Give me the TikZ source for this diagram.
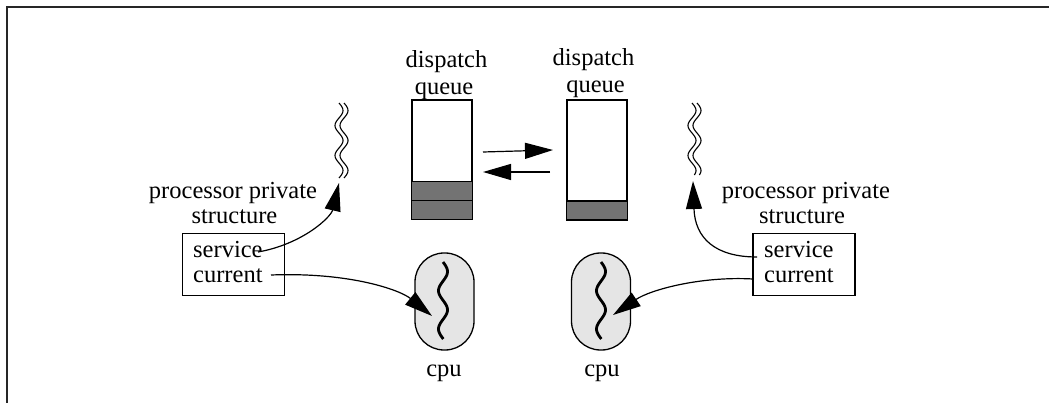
\documentclass[tikz,border=0pt]{standalone}
\usepackage{fontspec}
\setmainfont{Liberation Serif}
\usetikzlibrary{arrows.meta}

\tikzset{
  lbl/.style={inner sep=0pt, anchor=base, font=\fontsize{24.5}{25}\selectfont},
  lbll/.style={lbl, anchor=base west},
  frameline/.style={line width=2.4pt, draw=black!85},
  thin/.style={line width=1.2pt},
  bigarrow/.style={thin, -{Triangle[length=28pt,width=16pt]}},
  queuebox/.style={draw, line width=1.4pt, minimum width=60pt, minimum height=119pt, inner sep=0pt},
  slot/.style={draw, line width=1.4pt, fill=black!55},
  cpushape/.style={draw, line width=1.3pt, fill=black!10, rounded corners=29pt,
    minimum width=59pt, minimum height=97pt, inner sep=0pt},
  ppsbox/.style={draw, line width=1.3pt, minimum width=102pt, minimum height=62pt, inner sep=0pt},
  wave/.style={line width=1.1pt},
  thread/.style={line width=2.8pt},
}

\begin{document}
\begin{tikzpicture}[x=1pt,y=-1pt]
\useasboundingbox (0,0) rectangle (1049,403);

% border of the figure (top and left edges)
\draw[frameline] (7,403) -- (7,7) -- (1049,7);

% dispatch queues
\node[queuebox] (qL) at (442,159.5) {};
\node[queuebox] (qR) at (597,160) {};
\draw[slot] (qL.south west) rectangle ([yshift=19pt]qL.south east);
\draw[slot] ([yshift=19pt]qL.south west) rectangle ([yshift=38pt]qL.south east);
\draw[slot] (qR.south west) rectangle ([yshift=19pt]qR.south east);
\draw[line width=1.4pt] (qL.north west) rectangle (qL.south east);
\draw[line width=1.4pt] (qR.north west) rectangle (qR.south east);

\node[lbl] (dqL1) at (446.5,68) {dispatch};
\node[lbl] (dqL2) at (444,95) {queue};
\node[lbl] (dqR1) at (593.5,66) {dispatch};
\node[lbl] (dqR2) at (595.5,93) {queue};

% migration between the queues
\coordinate (mvA) at (483,152);
\coordinate (mvB) at (553,150);
\coordinate (mvC) at (550,172);
\coordinate (mvD) at (483,172);
\draw[bigarrow] (mvA) -- (mvB);
\draw[bigarrow] (mvC) -- (mvD);

% wavy (broken) threads above each private structure
\foreach \cx in {339,344} {
  \draw[wave] plot[domain=0:75, samples=60, smooth] ({\cx+4*sin(\x*12)}, {103+\x});
}
\foreach \cx in {692,697} {
  \draw[wave] plot[domain=0:72, samples=60, smooth] ({\cx+4*sin(\x*12)}, {103+\x});
}
\coordinate (wL) at (339,183);
\coordinate (wR) at (693,181);

% processor private structures
\node[lbl] (ppL1) at (233,199) {processor private};
\node[lbl] (ppL2) at (234.5,224) {structure};
\node[ppsbox] (boxL) at (233.5,264.5) {};
\node[lbll] (svL) at (193,258) {service};
\node[lbll] (cuL) at (193,283) {current};

\node[lbl] (ppR1) at (806,199) {processor private};
\node[lbl] (ppR2) at (802,224) {structure};
\node[ppsbox] (boxR) at (804,264.5) {};
\node[lbll] (svR) at (764,258) {service};
\node[lbll] (cuR) at (764,283) {current};

% cpus with running threads
\node[cpushape] (cpuL) at (444.5,301.5) {};
\node[cpushape] (cpuR) at (601,301.5) {};
\draw[thread] plot[domain=0:77, samples=60, smooth] ({443+4.5*sin(\x*9.4)}, {262+\x});
\draw[thread] plot[domain=0:77, samples=60, smooth] ({601+4.5*sin(\x*9.4)}, {262+\x});
\node[lbl] (cpuLt) at (444,376) {cpu};
\node[lbl] (cpuRt) at (602,376) {cpu};

\coordinate (tL) at (432,316);
\coordinate (tR) at (613,315);

% pointers
\coordinate (sL) at (258,252);
\coordinate (cL) at (271,275);
\coordinate (sR) at (757,257);
\coordinate (cR) at (753,279);
\draw[bigarrow] (sL) .. controls (303,244) and (331,217) .. (wL);
\draw[bigarrow] (cL) .. controls (350,272) and (400,290) .. (tL);
\draw[bigarrow] (sR) .. controls (715,257) and (695,238) .. (wR);
\draw[bigarrow] (cR) .. controls (700,276) and (650,290) .. (tR);
\end{tikzpicture}
\end{document}
